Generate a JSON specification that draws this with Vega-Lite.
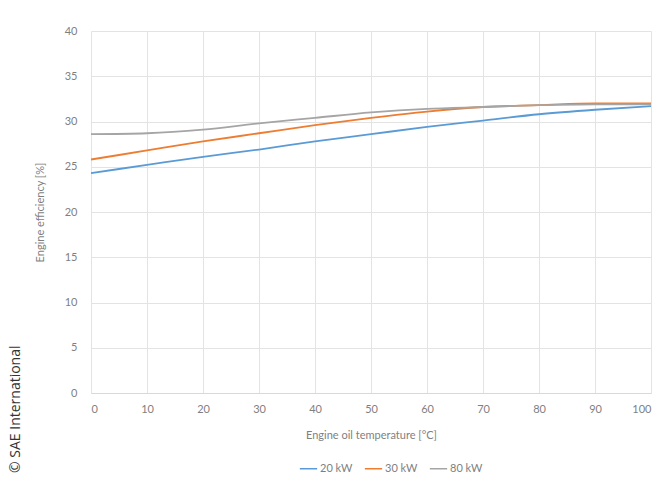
{
  "$schema": "https://vega.github.io/schema/vega-lite/v6.json",
  "width": 560,
  "height": 362,
  "autosize": "none",
  "padding": {"left": 91, "top": 31, "right": 14, "bottom": 84},
  "background": "white",
  "title": {
    "text": "© SAE International",
    "orient": "left",
    "anchor": "start",
    "frame": "group",
    "offset": 11,
    "dx": -80,
    "font": "Open Sans",
    "fontSize": 14,
    "fontWeight": "normal",
    "color": "#333333"
  },
  "config": {
    "font": "Lato",
    "view": {"stroke": null},
    "axis": {
      "labelFont": "Lato",
      "titleFont": "Lato",
      "labelColor": "#7f7f7f",
      "titleColor": "#7f7f7f",
      "labelFontSize": 11,
      "titleFontSize": 11,
      "titleFontWeight": "normal",
      "gridColor": "#e3e3e3",
      "domainColor": "#d9d9d9",
      "ticks": false
    }
  },
  "data": {
    "values": [
      {"t": 0, "eff": 24.3, "s": "20 kW"},
      {"t": 10, "eff": 25.2, "s": "20 kW"},
      {"t": 20, "eff": 26.1, "s": "20 kW"},
      {"t": 30, "eff": 26.9, "s": "20 kW"},
      {"t": 40, "eff": 27.8, "s": "20 kW"},
      {"t": 50, "eff": 28.6, "s": "20 kW"},
      {"t": 60, "eff": 29.4, "s": "20 kW"},
      {"t": 70, "eff": 30.1, "s": "20 kW"},
      {"t": 80, "eff": 30.8, "s": "20 kW"},
      {"t": 90, "eff": 31.3, "s": "20 kW"},
      {"t": 100, "eff": 31.7, "s": "20 kW"},
      {"t": 0, "eff": 25.8, "s": "30 kW"},
      {"t": 10, "eff": 26.8, "s": "30 kW"},
      {"t": 20, "eff": 27.8, "s": "30 kW"},
      {"t": 30, "eff": 28.7, "s": "30 kW"},
      {"t": 40, "eff": 29.6, "s": "30 kW"},
      {"t": 50, "eff": 30.4, "s": "30 kW"},
      {"t": 60, "eff": 31.1, "s": "30 kW"},
      {"t": 70, "eff": 31.6, "s": "30 kW"},
      {"t": 80, "eff": 31.8, "s": "30 kW"},
      {"t": 90, "eff": 32.0, "s": "30 kW"},
      {"t": 100, "eff": 32.0, "s": "30 kW"},
      {"t": 0, "eff": 28.6, "s": "80 kW"},
      {"t": 10, "eff": 28.7, "s": "80 kW"},
      {"t": 20, "eff": 29.1, "s": "80 kW"},
      {"t": 30, "eff": 29.8, "s": "80 kW"},
      {"t": 40, "eff": 30.4, "s": "80 kW"},
      {"t": 50, "eff": 31.0, "s": "80 kW"},
      {"t": 60, "eff": 31.4, "s": "80 kW"},
      {"t": 70, "eff": 31.6, "s": "80 kW"},
      {"t": 80, "eff": 31.8, "s": "80 kW"},
      {"t": 90, "eff": 31.9, "s": "80 kW"},
      {"t": 100, "eff": 31.9, "s": "80 kW"}
    ]
  },
  "mark": {"type": "line", "interpolate": "monotone", "strokeWidth": 1.8},
  "encoding": {
    "x": {
      "field": "t",
      "type": "quantitative",
      "scale": {"domain": [0, 100], "nice": false},
      "axis": {"values": [0,10,20,30,40,50,60,70,80,90,100], "title": "Engine oil temperature [°C]", "labelPadding": 10, "titlePadding": 15}
    },
    "y": {
      "field": "eff",
      "type": "quantitative",
      "scale": {"domain": [0, 40], "nice": false},
      "axis": {"values": [0,5,10,15,20,25,30,35,40], "title": "Engine efficiency [%]", "labelPadding": 14, "titlePadding": 19, "domain": false}
    },
    "color": {
      "field": "s",
      "type": "nominal",
      "scale": {"domain": ["20 kW", "30 kW", "80 kW"], "range": ["#5B9BD5", "#ED7D31", "#A5A5A5"]},
      "legend": {
        "title": null,
        "orient": "none",
        "direction": "horizontal",
        "legendX": 208,
        "legendY": 428,
        "symbolType": "stroke",
        "symbolSize": 300,
        "symbolStrokeWidth": 1.5,
        "labelFont": "Lato",
        "labelFontSize": 11,
        "labelColor": "#7f7f7f",
        "labelOffset": 2,
        "columnPadding": 8
      }
    }
  }
}
